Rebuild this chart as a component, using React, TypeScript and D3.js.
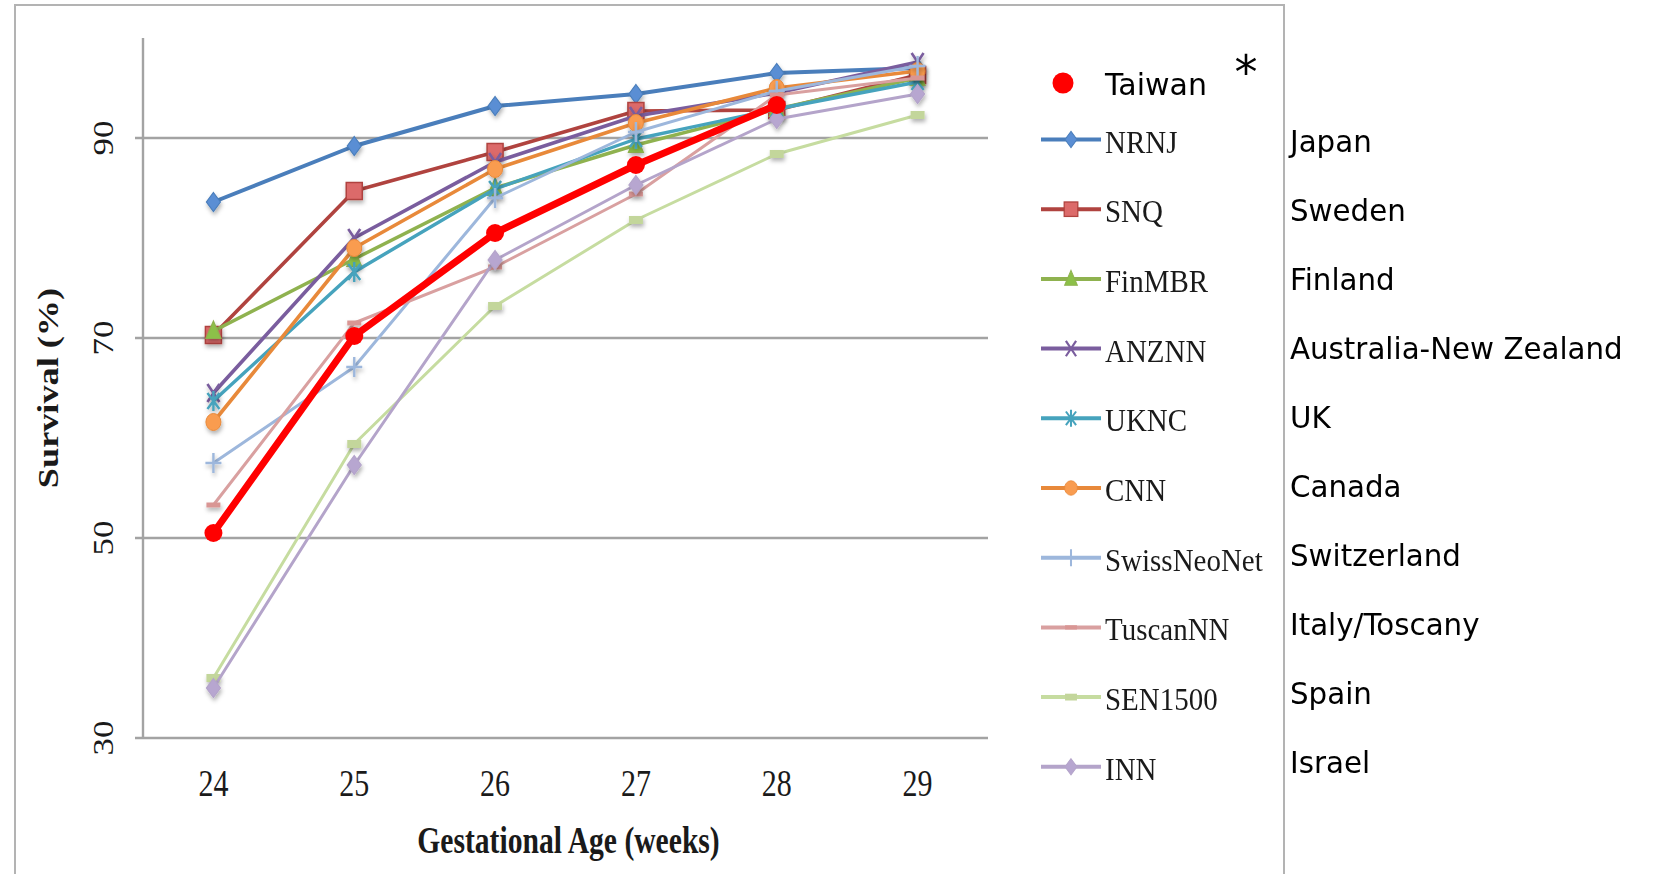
import React from "react";
import * as d3 from "d3";

// Gestational age (weeks) on the x axis
const weeks = [24, 25, 26, 27, 28, 29];
const yTicks = [30, 50, 70, 90];

// Survival (%) per network
const taiwan = [50.5, 70.2, 80.5, 87.3, 93.3];
const nrnj = [83.6, 89.2, 93.2, 94.4, 96.5, 97.0];
const snq = [70.3, 84.7, 88.6, 92.7, 92.8, 96.3];
const finmbr = [70.7, 77.9, 85.0, 89.3, 92.9, 96.0];
const anznn = [64.5, 80.0, 87.6, 92.2, 94.5, 97.6];
const uknc = [63.7, 76.6, 84.9, 89.9, 92.9, 95.6];
const cnn = [61.6, 79.0, 86.9, 91.5, 95.0, 96.7];
const swissNeoNet = [57.5, 67.1, 84.0, 90.6, 94.7, 97.2];
const tuscanNN = [53.3, 71.5, 77.1, 84.4, 94.3, 96.0];
const sen1500 = [36.0, 59.4, 73.2, 81.8, 88.4, 92.3];
const inn = [35.0, 57.3, 77.8, 85.3, 91.9, 94.4];

const networkNames = ["NRNJ", "SNQ", "FinMBR", "ANZNN", "UKNC", "CNN", "SwissNeoNet", "TuscanNN", "SEN1500", "INN"];
const countryNames = ["Japan", "Sweden", "Finland", "Australia-New Zealand", "UK", "Canada", "Switzerland", "Italy/Toscany", "Spain", "Israel"];

type Shape = "diamond" | "square" | "triangle" | "x" | "star" | "circle" | "plus" | "dash" | "bar";

const styles: { color: string; fill: string; shape: Shape; width: number }[] = [
  { color: "#4a7ebb", fill: "#5a8ed4", shape: "diamond", width: 4 },
  { color: "#b0433f", fill: "#dc6b6a", shape: "square", width: 3.6 },
  { color: "#8fb24f", fill: "#8cc048", shape: "triangle", width: 3.6 },
  { color: "#7a5d9e", fill: "#7a5d9e", shape: "x", width: 3.6 },
  { color: "#46a3bd", fill: "#46a3bd", shape: "star", width: 3.4 },
  { color: "#e8893a", fill: "#f99c50", shape: "circle", width: 3.6 },
  { color: "#9db7dc", fill: "#9db7dc", shape: "plus", width: 3 },
  { color: "#d9a0a0", fill: "#d99694", shape: "dash", width: 3 },
  { color: "#c6dca0", fill: "#c3d69b", shape: "bar", width: 3 },
  { color: "#b4a4ca", fill: "#b7a6d0", shape: "diamond", width: 3 },
];

const valueLists = [nrnj, snq, finmbr, anznn, uknc, cnn, swissNeoNet, tuscanNN, sen1500, inn];

const series = networkNames.map((name, i) => ({
  name,
  country: countryNames[i],
  values: valueLists[i],
  ...styles[i],
}));

const plotLeft = 143;
const plotRight = 988;
const plotTop = 38;
const plotBottom = 738;

const x = d3.scalePoint<number>().domain(weeks).range([plotLeft, plotRight]).padding(0.5);
const y = d3.scaleLinear().domain([30, 100]).range([plotBottom, plotTop]);

function Marker({ shape, cx, cy, color, fill, k = 1 }: { shape: Shape; cx: number; cy: number; color: string; fill: string; k?: number }) {
  const t = `translate(${cx},${cy}) scale(${k})`;
  switch (shape) {
    case "diamond":
      return <path transform={t} d="M0,-9.5L7,0L0,9.5L-7,0Z" fill={fill} stroke={color} strokeWidth={1.2} />;
    case "square":
      return <rect transform={t} x={-8} y={-8.5} width={16} height={17} fill={fill} stroke={color} strokeWidth={1.5} />;
    case "triangle":
      return <path transform={t} d="M0,-10L7.5,7.5L-7.5,7.5Z" fill={fill} stroke={color} strokeWidth={1.2} />;
    case "x":
      return <path transform={t} d="M-6,-9L6,9M6,-9L-6,9" stroke={color} strokeWidth={2.6} fill="none" />;
    case "star":
      return <path transform={t} d="M-6,-8L6,8M6,-8L-6,8M0,-10L0,10" stroke={color} strokeWidth={2.4} fill="none" />;
    case "circle":
      return <ellipse transform={t} rx={7.5} ry={8.5} fill={fill} stroke={color} strokeWidth={1} />;
    case "plus":
      return <path transform={t} d="M-8,0L8,0M0,-10L0,10" stroke={color} strokeWidth={2.4} fill="none" />;
    case "dash":
      return <rect transform={t} x={-7} y={-2.5} width={14} height={5} fill={fill} />;
    case "bar":
      return <rect transform={t} x={-7} y={-4} width={14} height={8} fill={fill} />;
  }
}

export default function App() {
  const line = d3
    .line<number>()
    .x((_, i) => x(weeks[i]) as number)
    .y((v) => y(v));

  const legendRowY = (i: number) => 139.5 + i * 69.7;
  const countryY = (i: number) => 141 + i * 69.0;

  return (
    <svg
      width={1653}
      height={874}
      style={{ position: "absolute", left: 0, top: 0, background: "#fff" }}
    >
      <defs>
        <filter id="mshadow" x="-60%" y="-60%" width="220%" height="220%">
          <feDropShadow dx={1} dy={3} stdDeviation={2} floodColor="#000" floodOpacity={0.3} />
        </filter>
      </defs>
      <rect width={1653} height={874} fill="#fff" />

      {/* frame around chart area and legend */}
      <path d="M15,880L15,5L1284,5L1284,880" fill="none" stroke="#b3b3b3" strokeWidth={2} />

      {/* horizontal gridlines and y ticks */}
      {yTicks.map((t) => (
        <line key={t} x1={135} x2={plotRight} y1={y(t)} y2={y(t)} stroke="#a3a3a3" strokeWidth={2.4} />
      ))}
      <line x1={plotLeft} x2={plotLeft} y1={plotTop} y2={plotBottom} stroke="#a3a3a3" strokeWidth={2.4} />

      {/* y tick labels */}
      {yTicks.map((t) => (
        <text
          key={t}
          transform={`translate(113,${y(t)}) rotate(-90) scale(1.2,1)`}
          textAnchor="middle"
          fontFamily="'Liberation Serif', 'Times New Roman', serif"
          fontSize={29}
          fill="#1a1a1a"
        >
          {t}
        </text>
      ))}

      {/* x tick labels */}
      {weeks.map((w) => (
        <text
          key={w}
          transform={`translate(${x(w)},796) scale(1,1.25)`}
          textAnchor="middle"
          fontFamily="'Liberation Serif', 'Times New Roman', serif"
          fontSize={30}
          fill="#1a1a1a"
        >
          {w}
        </text>
      ))}

      {/* axis titles */}
      <text
        transform={`translate(${(plotLeft + plotRight) / 2 + 3},853) scale(1,1.28)`}
        textAnchor="middle"
        fontFamily="'Liberation Serif', 'Times New Roman', serif"
        fontWeight="bold"
        fontSize={29.6}
        fill="#1a1a1a"
      >
        Gestational Age (weeks)
      </text>
      <text
        transform={`translate(58,${(plotTop + plotBottom) / 2}) rotate(-90) scale(1.25,1)`}
        textAnchor="middle"
        fontFamily="'Liberation Serif', 'Times New Roman', serif"
        fontWeight="bold"
        fontSize={29}
        fill="#1a1a1a"
      >
        Survival (%)
      </text>

      {/* network series: lines, then markers */}
      {series.map((s) => (
        <g key={s.name}>
          <path d={line(s.values) as string} fill="none" stroke={s.color} strokeWidth={s.width} strokeLinejoin="round" />
          <g filter="url(#mshadow)">
            {s.values.map((v, i) => (
              <Marker key={i} shape={s.shape} cx={x(weeks[i]) as number} cy={y(v)} color={s.color} fill={s.fill} />
            ))}
          </g>
        </g>
      ))}

      {/* Taiwan */}
      <path d={line(taiwan) as string} fill="none" stroke="#ff0000" strokeWidth={7} strokeLinejoin="round" />
      {taiwan.map((v, i) => (
        <circle key={i} cx={x(weeks[i]) as number} cy={y(v)} r={9} fill="#ff0000" />
      ))}

      {/* legend */}
      <circle cx={1063} cy={83} r={10.5} fill="#ff0000" />
      <text x={1105} y={95} fontFamily="'DejaVu Sans', Verdana, sans-serif" fontSize={30} fill="#000">
        Taiwan
      </text>
      <text x={1246} y={88} textAnchor="middle" fontFamily="'DejaVu Sans', sans-serif" fontSize={46} fill="#000">
        *
      </text>
      {series.map((s, i) => {
        const ly = legendRowY(i);
        return (
          <g key={s.name}>
            <line x1={1041} x2={1101} y1={ly} y2={ly} stroke={s.color} strokeWidth={4} />
            <Marker shape={s.shape} cx={1071} cy={ly} color={s.color} fill={s.fill} k={0.85} />
            <text
              transform={`translate(1105,${ly + 13}) scale(1,1.12)`}
              fontFamily="'Liberation Serif', 'Times New Roman', serif"
              fontSize={29}
              fill="#1a1a1a"
            >
              {s.name}
            </text>
            <text
              x={1290}
              y={countryY(i) + 11}
              fontFamily="'DejaVu Sans', Verdana, sans-serif"
              fontSize={29.3}
              fill="#000"
            >
              {s.country}
            </text>
          </g>
        );
      })}
    </svg>
  );
}
